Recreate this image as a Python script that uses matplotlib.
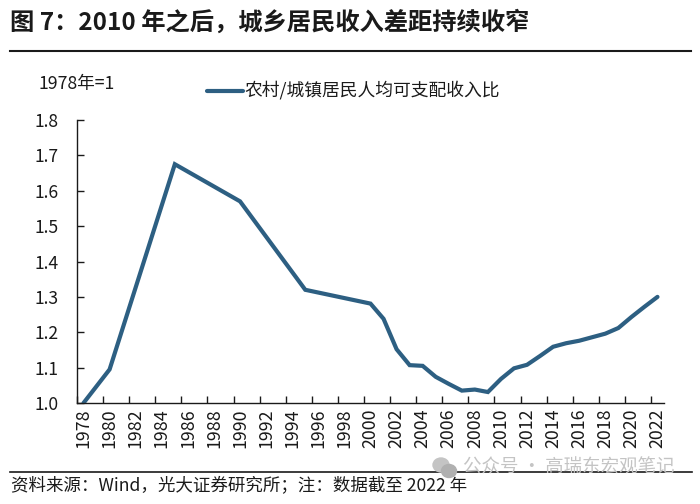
import matplotlib
matplotlib.use("Agg")
import matplotlib.pyplot as plt
from matplotlib.lines import Line2D
from matplotlib.patches import Ellipse

plt.rcParams['font.family'] = ['Noto Sans CJK SC', 'DejaVu Sans']

years = [1978, 1980, 1985, 1990, 1995, 2000, 2001, 2002, 2003, 2004, 2005,
         2006, 2007, 2008, 2009, 2010, 2011, 2012, 2013, 2014, 2015, 2016,
         2017, 2018, 2019, 2020, 2021, 2022]
ratio = [1.0, 1.095, 1.675, 1.57, 1.32, 1.281, 1.238, 1.152, 1.107, 1.105, 1.074,
         1.054, 1.035, 1.038, 1.031, 1.068, 1.098, 1.108, 1.133, 1.159, 1.169, 1.176,
         1.186, 1.196, 1.212, 1.243, 1.272, 1.30]
year_labels = list(range(1978, 2023, 2))
y_ticks = [1.0, 1.1, 1.2, 1.3, 1.4, 1.5, 1.6, 1.7, 1.8]

title = "图 7：2010 年之后，城乡居民收入差距持续收窄"
series_name = "农村/城镇居民人均可支配收入比"
unit = "1978年=1"
source = "资料来源：Wind，光大证券研究所；注：数据截至 2022 年"
watermark = "公众号 · 高瑞东宏观笔记"

W, H = 700, 504
line_color = "#2d5f82"
ink = "#1a1a1a"

fig = plt.figure(figsize=(W / 100, H / 100), dpi=100)
ax = fig.add_axes([77 / W, 1 - 403 / H, (664 - 77) / W, (403 - 120) / H])

x = [y - 1978 for y in years]
ax.plot(x, ratio, color=line_color, linewidth=3, solid_joinstyle='miter', solid_capstyle='round')

ax.set_xlim(-0.5, 44.5)
ax.set_ylim(1.0, 1.8)
ax.spines['top'].set_visible(False)
ax.spines['right'].set_visible(False)
for s in ['left', 'bottom']:
    ax.spines[s].set_linewidth(1.0)
    ax.spines[s].set_color(ink)

# ticks sit on the category edges, labels in the middle
ax.set_xticks([y - 1978 for y in year_labels])
ax.set_xticklabels(year_labels, rotation=90, fontsize=12.8, color=ink)
ax.tick_params(axis='x', which='major', length=0, pad=4)
ax.set_xticks([y - 1978 - 0.5 for y in year_labels], minor=True)
ax.tick_params(axis='x', which='minor', direction='in', length=5, width=1, color=ink)
ax.set_yticks(y_ticks)
ax.set_yticklabels([f"{v:.1f}" for v in y_ticks], fontsize=12.6, color=ink)
ax.tick_params(axis='y', direction='in', length=5, width=1, color=ink, pad=13)

fig.text(10 / W, 1 - 23 / H, title, fontsize=17.5, fontweight='bold', color=ink, va='center')
fig.text(39 / W, 1 - 84 / H, unit, fontsize=12.7, color=ink, va='center')
fig.text(244.5 / W, 1 - 90 / H, series_name, fontsize=12.8, color=ink, va='center')
fig.text(11 / W, 1 - 485 / H, source, fontsize=12.6, color=ink, va='center')
fig.text(463 / W, 1 - 468 / H, watermark, fontsize=13.3, color="#c4c4c4", va='center', zorder=5)

fig.add_artist(Line2D([207 / W, 243 / W], [1 - 91 / H] * 2, color=line_color, linewidth=3, solid_capstyle='round'))
fig.add_artist(Line2D([10 / W, 691 / W], [1 - 51 / H] * 2, color=ink, linewidth=1.5))
fig.add_artist(Line2D([10 / W, 692 / W], [1 - 472 / H] * 2, color=ink, linewidth=1.2))

# wechat logo in the watermark
fig.add_artist(Ellipse((441 / W, 1 - 465 / H), 16 / W, 14 / H, color="#c4c4c4", zorder=5))
fig.add_artist(Ellipse((449 / W, 1 - 471 / H), 15 / W, 13 / H, color="#b0b0b0", zorder=5))

fig.savefig("out.png", dpi=100)
